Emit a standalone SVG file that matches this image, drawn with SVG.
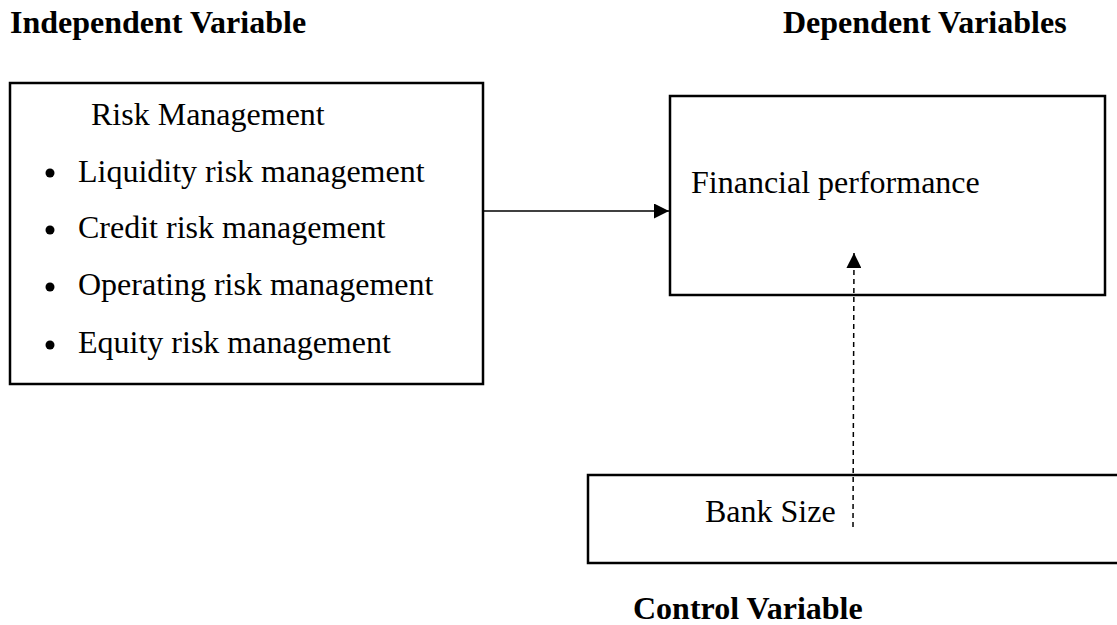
<svg xmlns="http://www.w3.org/2000/svg" width="1117" height="625" viewBox="0 0 1117 625">
<style>
.box{fill:none;stroke:#000;stroke-width:2.5}
.t{font-family:"Liberation Serif","Times New Roman",serif;font-size:32px;fill:#000}
.h{font-family:"Liberation Serif","Times New Roman",serif;font-size:32px;font-weight:bold;fill:#000}
.c{stroke:#000;stroke-width:1.5;fill:none}
</style>
<defs>
<marker id="ah" viewBox="0 0 10 10" refX="10" refY="5" markerWidth="15" markerHeight="15" markerUnits="userSpaceOnUse" orient="auto">
<path d="M0,0 L10,5 L0,10 z" fill="#000"/>
</marker>
</defs>
<g id="labels">
<text class="h" x="10" y="33">Independent Variable</text>
<text class="h" x="783" y="33">Dependent Variables</text>
<text class="h" x="633" y="619">Control Variable</text>
</g>
<g id="risk-management">
<rect class="box" x="10" y="83" width="473" height="301"/>
<text class="t" x="91" y="125">Risk Management</text>
<circle cx="50" cy="173" r="4.5"/>
<text class="t" x="78" y="182">Liquidity risk management</text>
<circle cx="50" cy="230" r="4.5"/>
<text class="t" x="78" y="238">Credit risk management</text>
<circle cx="50" cy="287" r="4.5"/>
<text class="t" x="78" y="295">Operating risk management</text>
<circle cx="50" cy="345" r="4.5"/>
<text class="t" x="78" y="353">Equity risk management</text>
</g>
<g id="financial-performance">
<rect class="box" x="670" y="96" width="435" height="199"/>
<text class="t" x="691" y="193">Financial performance</text>
</g>
<g id="bank-size">
<rect class="box" x="588" y="475" width="540" height="88"/>
<text class="t" x="705" y="522">Bank Size</text>
</g>
<g id="connectors">
<line class="c" x1="484" y1="211" x2="669" y2="211" marker-end="url(#ah)"/>
<line class="c" x1="853" y1="527" x2="854" y2="253" stroke-dasharray="5,4" marker-end="url(#ah)"/>
</g>
</svg>
